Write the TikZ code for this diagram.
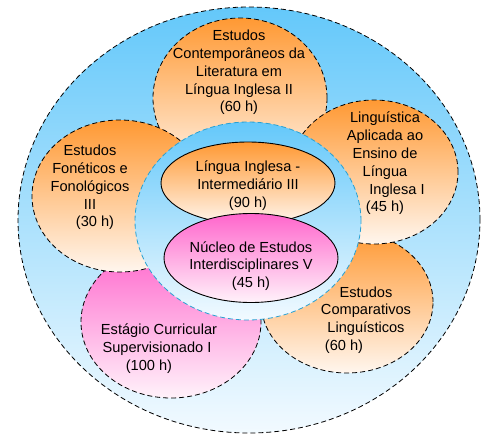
\documentclass[tikz,border=0pt]{standalone}
\usepackage{fontspec}
\setmainfont{Liberation Sans}
\usetikzlibrary{shapes.geometric}
\definecolor{skyA}{RGB}{100,200,250}
\definecolor{skyB}{RGB}{242,250,255}
\definecolor{orA}{RGB}{255,153,51}
\definecolor{orB}{RGB}{255,246,238}
\definecolor{pkA}{RGB}{255,102,204}
\definecolor{pkB}{RGB}{255,242,250}
\definecolor{rimblue}{RGB}{40,160,210}
\tikzset{
  blob/.style={ellipse, inner sep=0pt, outer sep=0pt, draw=black, line width=0.8pt, dash pattern=on 5pt off 3pt},
  orangefill/.style={shade, top color=orA, bottom color=orB},
  pinkfill/.style={shade, top color=pkA, bottom color=pkB},
  bluefill/.style={shade, top color=skyA, bottom color=skyB},
  core/.style={ellipse, inner sep=0pt, outer sep=0pt, draw=black, line width=0.9pt, solid},
  lbl/.style={font=\fontsize{14.6}{17.8}\selectfont, align=center, inner sep=0pt, text=black}
}
\begin{document}
\begin{tikzpicture}[x=1pt,y=-1pt]
\useasboundingbox (0,0) rectangle (483,437);
% outer field
\node[blob, bluefill, minimum width=462pt, minimum height=426pt] (outer) at (249,220) {};
% surrounding subjects
\node[blob, pinkfill, minimum width=180pt, minimum height=152pt] (estagio) at (171,322) {};
\node[blob, orangefill, minimum width=172pt, minimum height=142pt] (comp) at (347,302) {};
\node[blob, orangefill, minimum width=174pt, minimum height=160pt] (contemp) at (240,98) {};
\node[blob, orangefill, minimum width=176pt, minimum height=152pt] (fonet) at (120,196) {};
\node[blob, orangefill, minimum width=168pt, minimum height=144pt] (linguist) at (374,172) {};
% inner circle
\node[blob, bluefill, draw=rimblue, minimum width=226pt, minimum height=198pt] (inner) at (248,221) {};
\node[core, orangefill, minimum width=174pt, minimum height=82pt] (lingua) at (248,183) {};
\node[core, pinkfill, minimum width=174pt, minimum height=89pt] (nucleo) at (251,258) {};
% labels
\node[lbl] (tcontemp) at (239,72.5) {Estudos\\Contemporâneos da\\Literatura em\\Língua Inglesa II\\(60 h)};
\node[lbl] (tfonet) at (90,187.5) {Estudos\\Fonéticos e\\Fonológicos\\III\hspace*{8pt}\\\hspace*{10pt}(30 h)};
\node[lbl] (tlinguist) at (385,163.5) {Linguística\\Aplicada ao\hspace*{20pt}\\Ensino de\\Língua\\\hspace*{24pt}Inglesa I\\(45 h)};
\node[lbl] (tcomp) at (366,320) {Estudos\\Comparativos\\Linguísticos\\(60 h)\hspace*{44pt}};
\node[lbl] (testagio) at (157,348.5) {\hspace*{4pt}Estágio Curricular\\Supervisionado I\hspace*{3pt}\\(100 h)\hspace*{16pt}};
\node[lbl] (tlingua) at (248,185.5) {Língua Inglesa -\\Intermediário III\\(90 h)};
\node[lbl] (tnucleo) at (251,266) {Núcleo de Estudos\\Interdisciplinares V\\(45 h)};
\end{tikzpicture}
\end{document}
